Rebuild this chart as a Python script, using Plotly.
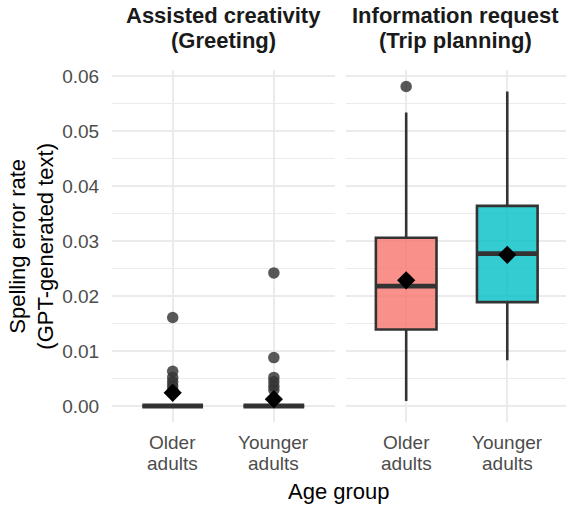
import plotly.graph_objects as go

# ---- data ----
groups = ["Older adults", "Younger adults"]
panels = [["Assisted creativity", "(Greeting)"], ["Information request", "(Trip planning)"]]

# Assisted creativity (Greeting)
greet_q1 = [0.0, 0.0]
greet_med = [0.0, 0.0]
greet_q3 = [0.0, 0.0]
greet_lo = [0.0, 0.0]
greet_hi = [0.0, 0.0]
greet_mean = [0.00240, 0.00125]
greet_out_older = [0.0161, 0.0063, 0.0052, 0.0044, 0.0037, 0.0030]
greet_out_younger = [0.0242, 0.0088, 0.0052, 0.0044, 0.0036, 0.0029]

# Information request (Trip planning)
trip_q1 = [0.0139, 0.0189]
trip_med = [0.0218, 0.0277]
trip_q3 = [0.0306, 0.0364]
trip_lo = [0.0009, 0.0083]
trip_hi = [0.0534, 0.0572]
trip_mean = [0.02285, 0.0275]
trip_out_older = [0.0581]
trip_out_younger = []

y_ticks = [0, 0.01, 0.02, 0.03, 0.04, 0.05, 0.06]

fills = ["rgba(248,118,109,0.8)", "rgba(0,191,196,0.8)"]
BOX_W = 0.6
LINE = "#333333"
GRID = "#ebebeb"
FONT = "Liberation Sans, Arial, sans-serif"

TOP, BOTTOM, H = 70, 86, 508
PLOT_H = H - TOP - BOTTOM


def ypaper(px):
    return (H - BOTTOM - px) / PLOT_H


fig = go.Figure()

panel_data = [
    ("x", "y", greet_q1, greet_med, greet_q3, greet_lo, greet_hi, greet_mean,
     [greet_out_older, greet_out_younger]),
    ("x2", "y2", trip_q1, trip_med, trip_q3, trip_lo, trip_hi, trip_mean,
     [trip_out_older, trip_out_younger]),
]

for xa, ya, q1, med, q3, lo, hi, mean, outs in panel_data:
    for i in range(len(groups)):
        fig.add_trace(go.Box(
            x=[i], q1=[q1[i]], median=[med[i]], q3=[q3[i]],
            lowerfence=[lo[i]], upperfence=[hi[i]],
            width=BOX_W, whiskerwidth=0, boxpoints=False,
            fillcolor=fills[i], line=dict(color=LINE, width=2.6),
            xaxis=xa, yaxis=ya, hoverinfo="skip", showlegend=False,
        ))
    # thicker median lines
    mx, my = [], []
    for i in range(len(groups)):
        mx += [i - BOX_W / 2, i + BOX_W / 2, None]
        my += [med[i], med[i], None]
    fig.add_trace(go.Scatter(x=mx, y=my, mode="lines",
                             line=dict(color=LINE, width=4.8),
                             xaxis=xa, yaxis=ya, hoverinfo="skip", showlegend=False))
    # outliers
    for i, o in enumerate(outs):
        if o:
            fig.add_trace(go.Scatter(
                x=[i] * len(o), y=o, mode="markers",
                marker=dict(symbol="circle", size=11.5, color="rgba(51,51,51,0.82)",
                            line=dict(width=0)),
                xaxis=xa, yaxis=ya, hoverinfo="skip", showlegend=False))
    # means
    fig.add_trace(go.Scatter(
        x=list(range(len(groups))), y=mean, mode="markers",
        marker=dict(symbol="diamond", size=14, color="black", line=dict(width=0)),
        xaxis=xa, yaxis=ya, hoverinfo="skip", showlegend=False))

xcommon = dict(tickvals=list(range(len(groups))), showticklabels=False, showgrid=True,
               gridcolor=GRID, gridwidth=1.8, zeroline=False, showline=False, ticks="")
ycommon = dict(range=[-0.00291, 0.06111], tickvals=y_ticks,
               tickformat=".2f", showgrid=True, gridcolor=GRID, gridwidth=1.8,
               zeroline=False, showline=False,
               minor=dict(tickvals=[0.005, 0.015, 0.025, 0.035, 0.045, 0.055],
                          showgrid=True, gridcolor=GRID, gridwidth=1, ticks=""),
               tickfont=dict(size=19, color="#4d4d4d", family=FONT))

annotations = []
# strip titles
for cx, lines in zip([0.2451, 0.757], panels):
    for py, line in zip([15, 40], lines):
        annotations.append(dict(text="<b>" + line + "</b>", x=cx, xref="paper",
                                y=ypaper(py), yref="paper", xanchor="center",
                                yanchor="middle", showarrow=False,
                                font=dict(size=22, color="#1a1a1a", family=FONT)))
# x tick labels (two lines each)
for xr in ["x", "x2"]:
    for i, g in enumerate(groups):
        for py, word in zip([442, 463], g.split(" ")):
            annotations.append(dict(text=word, x=i, xref=xr, y=ypaper(py), yref="paper",
                                    xanchor="center", yanchor="middle", showarrow=False,
                                    font=dict(size=19, color="#4d4d4d", family=FONT)))
annotations += [
    dict(text="Age group", x=0.5, xref="paper", y=ypaper(492), yref="paper",
         xanchor="center", yanchor="middle", showarrow=False,
         font=dict(size=22, color="black", family=FONT)),
    dict(text="Spelling error rate<br>(GPT-generated text)", textangle=-90,
         x=-0.177, xref="paper", y=0.5, yref="paper",
         xanchor="center", yanchor="middle", showarrow=False,
         font=dict(size=22, color="black", family=FONT)),
]

fig.update_layout(
    width=566, height=H,
    margin=dict(l=112, r=0, t=TOP, b=BOTTOM),
    paper_bgcolor="white", plot_bgcolor="white",
    boxmode="overlay",
    xaxis=dict(domain=[0, 0.4902], range=[-0.6, 1.6], anchor="y", **xcommon),
    xaxis2=dict(domain=[0.5144, 1], range=[-0.6, 1.581], anchor="y2", **xcommon),
    yaxis=dict(anchor="x", ticks="outside", ticklen=8, tickcolor="rgba(0,0,0,0)", **ycommon),
    yaxis2=dict(anchor="x2", matches="y", showticklabels=False, **ycommon),
    font=dict(family=FONT),
    annotations=annotations,
)

fig.write_html("out.html")
